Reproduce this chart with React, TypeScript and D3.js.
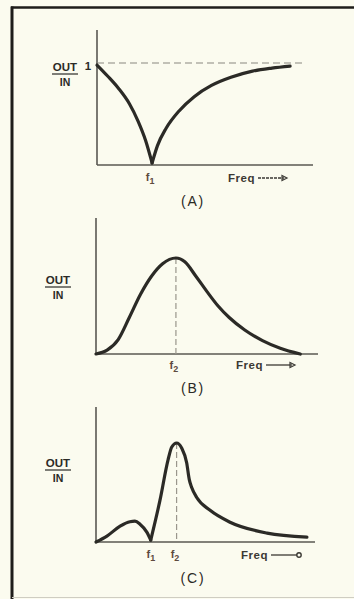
import React from "react";
import * as d3 from "d3";

// Panel A: notch response (two branches meeting at f1)
const curveA_left: [number, number][] = [
  [0, 0.98], [5, 0.87], [10, 0.75], [15, 0.6], [19, 0.43], [22.5, 0.24], [25.5, 0.02],
];
const curveA_right: [number, number][] = [
  [25.5, 0.02], [28, 0.19], [32, 0.36], [38, 0.53], [45, 0.67], [53, 0.78], [62, 0.86], [72, 0.92], [81, 0.95], [89.4, 0.97],
];
// Panel B: resonance peak at f2
const curveB: [number, number][] = [
  [0, 0], [5, 0.04], [10, 0.15], [15, 0.38], [20, 0.62], [25, 0.81], [30, 0.94], [36, 1.0],
  [40, 0.96], [45, 0.81], [50, 0.65], [55, 0.5], [60, 0.38], [67, 0.25], [75, 0.14], [83, 0.06], [92, 0.0],
];
// Panel C: small hump, null at f1, peak at f2
const curveC_hump: [number, number][] = [
  [0, 0], [5, 0.06], [11, 0.16], [15.5, 0.205], [17.8, 0.21], [20.1, 0.18], [23.2, 0.1], [25, 0.02],
];
const curveC_peak: [number, number][] = [
  [25, 0.02], [29.2, 0.42], [32.9, 0.83], [34.6, 0.96], [36.8, 1.0], [39.1, 0.95], [41.4, 0.8],
  [42.6, 0.63], [43.7, 0.55], [46, 0.45], [52.1, 0.32], [61.2, 0.2], [78.1, 0.09], [96.3, 0.05],
];

const markersA = [{ label: "f", sub: "1", x: 25.5 }];
const markersB = [{ label: "f", sub: "2", x: 36 }];
const markersC = [
  { label: "f", sub: "1", x: 26 },
  { label: "f", sub: "2", x: 37 },
];
const panelTitles = ["(A)", "(B)", "(C)"];
const axisLabelTop = "OUT";
const axisLabelBottom = "IN";
const freqLabel = "Freq";
const unityLabel = "1";

const INK = "#2b2a26";
const AXIS = "#5a5852";
const BROWN = "#5e4a3e";
const BG = "#fbfbef";
const FONT = "'Liberation Sans', Arial, sans-serif";

type PanelProps = {
  x0: number; x1: number; yBase: number; yTop: number; yOne: number;
  curves: [number, number][][];
  markers: { label: string; sub: string; x: number }[];
  dashedX?: number; dashedY?: number;
  labelY: number; outX: number;
  freqX: number; freqY: number; arrow: "dash" | "solid" | "dot";
  title: string; titleY: number; showOne?: boolean; markerY: number;
  axisEnd: number;
};

function Panel(p: PanelProps) {
  const x = d3.scaleLinear().domain([0, 100]).range([p.x0, p.x1]);
  const y = d3.scaleLinear().domain([0, 1]).range([p.yBase, p.yOne]);
  const line = d3.line<[number, number]>().x(d => x(d[0])).y(d => y(d[1])).curve(d3.curveMonotoneX);
  const arrowStart = p.freqX + 30;
  const arrowEnd = p.freqX + 59;
  return (
    <g>
      <line x1={p.x0} x2={p.x0} y1={p.yTop} y2={p.yBase} stroke={AXIS} strokeWidth={1.6} />
      <line x1={p.x0} x2={x(p.axisEnd)} y1={p.yBase} y2={p.yBase} stroke={AXIS} strokeWidth={1.6} />
      {p.dashedY !== undefined && (
        <line x1={p.x0} x2={x(96.3)} y1={y(p.dashedY)} y2={y(p.dashedY)} stroke="#8a8880" strokeWidth={1.2} strokeDasharray="7,4" />
      )}
      {p.dashedX !== undefined && (
        <line x1={x(p.dashedX)} x2={x(p.dashedX)} y1={y(1)} y2={p.yBase} stroke="#9a968c" strokeWidth={1.2} strokeDasharray="6,3" />
      )}
      {p.curves.map((c, i) => (
        <path key={i} d={line(c) || ""} fill="none" stroke={INK} strokeWidth={3.2} strokeLinecap="round" strokeLinejoin="round" />
      ))}
      <text x={p.outX} y={p.labelY} fontFamily={FONT} fontWeight={700} fontSize={11.5} fill={INK} textAnchor="middle">{axisLabelTop}</text>
      <line x1={p.outX - 13} x2={p.outX + 13} y1={p.labelY + 3} y2={p.labelY + 3} stroke={INK} strokeWidth={1.2} />
      <text x={p.outX} y={p.labelY + 15} fontFamily={FONT} fontWeight={700} fontSize={10.5} fill={INK} textAnchor="middle">{axisLabelBottom}</text>
      {p.showOne && (
        <text x={p.x0 - 9} y={y(p.dashedY ?? 1) + 7} fontFamily={FONT} fontWeight={700} fontSize={11.5} fill={INK} textAnchor="middle">{unityLabel}</text>
      )}
      {p.markers.map((m, i) => (
        <text key={i} x={x(m.x) - 2} y={p.markerY} fontFamily={FONT} fontWeight={700} fontSize={11} fill={BROWN} textAnchor="middle">
          {m.label}
          <tspan fontSize={9} dy={3}>{m.sub}</tspan>
        </text>
      ))}
      <text x={p.freqX} y={p.freqY} fontFamily={FONT} fontWeight={700} fontSize={11.5} letterSpacing={0.5} fill="#3b3934">{freqLabel}</text>
      <line x1={arrowStart} x2={arrowEnd - 3} y1={p.freqY - 4} y2={p.freqY - 4} stroke="#3b3934" strokeWidth={1.3}
        strokeDasharray={p.arrow === "dash" ? "3,1" : undefined} />
      {p.arrow === "dot" ? (
        <circle cx={arrowEnd - 1} cy={p.freqY - 4} r={2.2} fill="none" stroke="#3b3934" strokeWidth={1.4} />
      ) : (
        <path d={`M${arrowEnd - 5},${p.freqY - 6.5} L${arrowEnd},${p.freqY - 4} L${arrowEnd - 5},${p.freqY - 1.5} Z`} fill="none" stroke="#3b3934" strokeWidth={1.2} />
      )}
      <text x={193} y={p.titleY} fontFamily={FONT} fontSize={14} fontWeight={500} fill={INK} textAnchor="middle" letterSpacing={1.8}>{p.title}</text>
    </g>
  );
}

export default function App() {
  return (
    <svg width={354} height={599} style={{ position: "absolute", left: 0, top: 0, background: BG }}>
      <rect x={0} y={0} width={354} height={599} fill={BG} />
      <line x1={11} x2={354} y1={7.5} y2={7.5} stroke="#1e1d1a" strokeWidth={2.5} />
      <line x1={12} x2={12} y1={6.5} y2={599} stroke="#1e1d1a" strokeWidth={3} />
      <line x1={12} x2={354} y1={597.5} y2={597.5} stroke="#cfcdc2" strokeWidth={1} />

      <Panel x0={97} x1={313} yBase={165} yTop={30} yOne={63}
        curves={[curveA_left, curveA_right]} markers={markersA}
        dashedY={1} labelY={71} outX={65} showOne
        freqX={228} freqY={182} arrow="dash" title={panelTitles[0]} titleY={206} markerY={181} axisEnd={100} />
      <Panel x0={96} x1={318} yBase={354} yTop={218} yOne={258}
        curves={[curveB]} markers={markersB} dashedX={36}
        labelY={284} outX={58}
        freqX={236} freqY={369} arrow="solid" title={panelTitles[1]} titleY={393} markerY={369} axisEnd={100} />
      <Panel x0={96} x1={315} yBase={542} yTop={407} yOne={443}
        curves={[curveC_hump, curveC_peak]} markers={markersC} dashedX={36.8}
        labelY={467} outX={58}
        freqX={241} freqY={559} arrow="dot" title={panelTitles[2]} titleY={583} markerY={558} axisEnd={100} />
    </svg>
  );
}
